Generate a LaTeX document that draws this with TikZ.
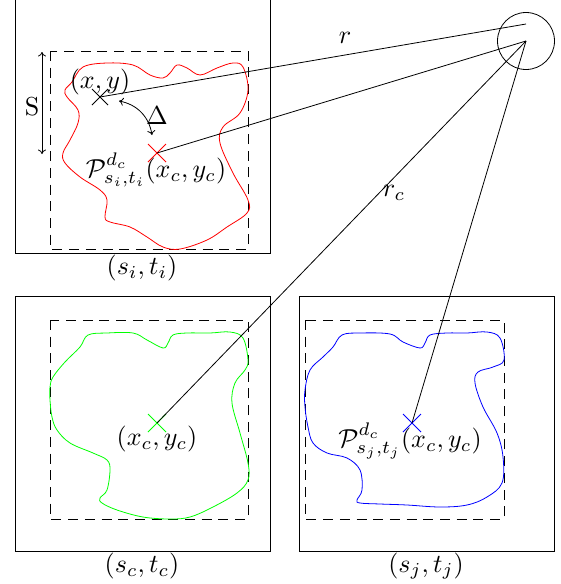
\documentclass[tikz,border=0pt]{standalone}
\usetikzlibrary{arrows.meta}
\begin{document}
\begin{tikzpicture}[x=1pt,y=-1pt,
  lbl/.style={scale=2.6, transform shape, inner sep=0pt},
  outerbox/.style={draw, line width=0.9pt},
  dashbox/.style={draw, line width=0.8pt, dash pattern=on 10pt off 6.7pt},
  blob/.style={line width=0.8pt},
  conn/.style={line width=0.8pt},
  crossline/.style={line width=0.9pt}]
\useasboundingbox (0,0) rectangle (561,584);
% boxes
\draw[outerbox] (15,-2) rectangle (270,253);
\draw[dashbox] (50,51) rectangle (248,249);
\draw[outerbox] (15,296) rectangle (270,551);
\draw[dashbox] (50,320) rectangle (248,519);
\draw[outerbox] (299,296) rectangle (554,551);
\draw[dashbox] (305,320) rectangle (504,519);
% blobs
\draw[blob, red] plot[smooth cycle, tension=0.6] coordinates {
 (72,82) (83,67) (107,63) (133,65) (150,75) (163,78) (170,73) (177,65) (187,68)
 (200,75) (217,68) (233,63) (243,67) (248,90) (240,113) (223,127) (220,143)
 (233,173) (248,200) (247,213) (227,227) (207,240) (180,249) (163,247) (147,237)
 (130,227) (110,222) (105,217) (107,200) (100,190) (80,177) (65,163) (63,153)
 (70,140) (78,123) (78,110) (67,97) (65,90)};
\draw[blob, green] plot[smooth cycle, tension=0.6] coordinates {
 (50,387) (53,377) (65,362) (80,347) (88,335) (107,333) (133,333) (147,340)
 (163,348) (168,343) (173,335) (187,333) (210,333) (230,332) (243,338) (248,360)
 (245,370) (235,383) (232,403) (240,433) (248,463) (248,480) (237,493) (213,507)
 (190,517) (170,519) (143,517) (117,510) (102,503) (100,498) (107,490) (110,470)
 (107,460) (93,453) (70,443) (57,430) (52,417) (50,400)};
\draw[blob, blue] plot[smooth cycle, tension=0.6] coordinates {
 (305,390) (310,370) (323,357) (333,347) (342,335) (360,333) (390,334) (403,342)
 (420,348) (425,343) (430,335) (447,333) (467,333) (487,332) (500,338) (504,360)
 (493,367) (478,372) (475,383) (483,407) (497,433) (503,457) (502,483) (487,497)
 (467,505) (440,507) (407,505) (380,504) (360,503) (357,500) (362,490) (360,470)
 (347,458) (327,453) (313,443) (308,427) (305,407)};
% points
\coordinate (xy) at (100,97);
\coordinate (rc) at (157,153);
\coordinate (gc) at (157,423);
\coordinate (bc) at (412,423);
\node[draw, circle, minimum size=57pt, inner sep=0pt, line width=0.8pt] (sat) at (526,41) {};
\coordinate (rend) at (526,24);
% crosses
\draw[crossline] ([shift={(-8,-8)}]xy) -- ([shift={(8,8)}]xy) ([shift={(-8,8)}]xy) -- ([shift={(8,-8)}]xy);
\draw[crossline, red] ([shift={(-9,-9)}]rc) -- ([shift={(9,9)}]rc) ([shift={(-9,9)}]rc) -- ([shift={(9,-9)}]rc);
\draw[crossline, green] ([shift={(-9,-9)}]gc) -- ([shift={(9,9)}]gc) ([shift={(-9,9)}]gc) -- ([shift={(9,-9)}]gc);
\draw[crossline, blue] ([shift={(-9,-9)}]bc) -- ([shift={(9,9)}]bc) ([shift={(-9,9)}]bc) -- ([shift={(9,-9)}]bc);
% connectors
\draw[conn] (xy) -- (rend);
\draw[conn] (rc) -- (sat.center);
\draw[conn] (gc) -- (sat.center);
\draw[conn] (bc) -- (sat.center);
% S arrow and Delta arrow
\coordinate (s1) at (42,52);
\coordinate (s2) at (42,154);
\draw[conn, {To[length=4.5pt,width=8pt]}-{To[length=4.5pt,width=8pt]}] (s1) -- (s2);
\coordinate (d1) at (119,101);
\coordinate (d2) at (152,135);
\draw[conn, {To[length=4.5pt,width=8pt]}-{To[length=4.5pt,width=8pt]}] (d1) to[bend left=35] (d2);
% labels
\node[lbl] (lS) at (32,107) {S};
\node[lbl] (lD) at (157,116) {$\Delta$};
\node[lbl] (lxy) at (100,82) {$(x,y)$};
\node[lbl] (lr) at (345,38) {$r$};
\node[lbl] (lrc) at (394,193) {$r_c$};
\node[lbl] (lP1) at (156,170) {$\mathcal{P}^{d_c}_{s_i,t_i}(x_c,y_c)$};
\node[lbl] (lg) at (157,439) {$(x_c,y_c)$};
\node[lbl] (lP2) at (410,441) {$\mathcal{P}^{d_c}_{s_j,t_j}(x_c,y_c)$};
\node[lbl] (lsi) at (142,268) {$(s_i,t_i)$};
\node[lbl] (lsc) at (142,566) {$(s_c,t_c)$};
\node[lbl] (lsj) at (426,566) {$(s_j,t_j)$};
\end{tikzpicture}
\end{document}
